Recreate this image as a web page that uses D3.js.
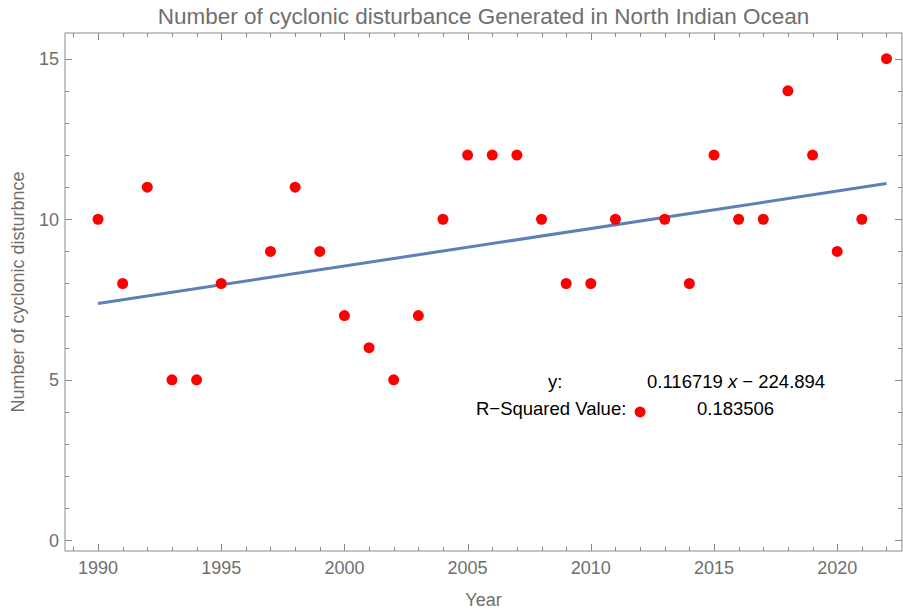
<!DOCTYPE html>
<html><head><meta charset="utf-8">
<script src="https://cdn.jsdelivr.net/npm/d3@7"></script>
<style>body{margin:0;background:#fff}svg{display:block;font-family:"Liberation Sans",Arial,sans-serif}</style>
</head><body><svg id="c" width="903" height="609"></svg>
<script>
const years = [1990,1991,1992,1993,1994,1995,1997,1998,1999,2000,2001,2002,2003,2004,2005,2006,2007,2008,2009,2010,2011,2012,2013,2014,2015,2016,2017,2018,2019,2020,2021,2022];
const counts = [10,8,11,5,5,8,9,11,9,7,6,5,7,10,12,12,12,10,8,8,10,4,10,8,12,10,10,14,12,9,10,15];
const fitSlope = 0.116719, fitIntercept = -224.894, rSquared = 0.183506;
const xTicks = [1990,1995,2000,2005,2010,2015,2020];
const yTicks = [0,5,10,15];

const svg = d3.select("#c");
const L=65, R=902, T=33, B=551;
const x = d3.scaleLinear().domain([1988.66,2022.63]).range([L,R]);
const y = d3.scaleLinear().domain([-0.33,15.8]).range([B,T]);
const grey="#6f6f6f", tickCol="#8a8a8a";

svg.append("rect").attr("x",L).attr("y",T).attr("width",R-L).attr("height",B-T)
  .attr("fill","none").attr("stroke",tickCol).attr("stroke-width",1);

const g = svg.append("g").attr("stroke",tickCol).attr("stroke-width",1);
d3.range(1989,2023).forEach(v=>{
  const len = v%5===0?7:4, px=Math.round(x(v))+0.5;
  g.append("line").attr("x1",px).attr("x2",px).attr("y1",B).attr("y2",B-len);
  g.append("line").attr("x1",px).attr("x2",px).attr("y1",T).attr("y2",T+len);
});
d3.range(0,16).forEach(v=>{
  const len = v%5===0?7:4, py=Math.round(y(v))+0.5;
  g.append("line").attr("x1",L).attr("x2",L+len).attr("y1",py).attr("y2",py);
  g.append("line").attr("x1",R).attr("x2",R-len).attr("y1",py).attr("y2",py);
});
svg.selectAll(".xl").data(xTicks).enter().append("text")
  .attr("x",d=>x(d)).attr("y",B+23).attr("text-anchor","middle")
  .attr("font-size",18).attr("fill",grey).text(d=>d);
svg.selectAll(".yl").data(yTicks).enter().append("text")
  .attr("x",L-6).attr("y",d=>y(d)+6.5).attr("text-anchor","end")
  .attr("font-size",18).attr("fill",grey).text(d=>d);

const fx=[years[0],years[years.length-1]];
svg.append("line").attr("x1",x(fx[0])).attr("y1",y(fitSlope*fx[0]+fitIntercept))
  .attr("x2",x(fx[1])).attr("y2",y(fitSlope*fx[1]+fitIntercept))
  .attr("stroke","#5e81b5").attr("stroke-width",3);

svg.selectAll(".pt").data(years).enter().append("circle")
  .attr("cx",d=>x(d)).attr("cy",(d,i)=>y(counts[i])).attr("r",5.5).attr("fill","#ff0000");

const ann = svg.append("g").attr("font-size",18.5).attr("fill","#000");
ann.append("text").attr("x",548).attr("y",388).text("y:");
const eq = ann.append("text").attr("x",647).attr("y",388);
eq.append("tspan").text(fitSlope.toFixed(6)+" ");
eq.append("tspan").attr("font-style","italic").text("x");
eq.append("tspan").text(" \u2212 "+(-fitIntercept).toFixed(3));
ann.append("text").attr("x",476).attr("y",415).text("R\u2212Squared Value:");
ann.append("text").attr("x",697).attr("y",415).text(rSquared.toFixed(6));

svg.append("text").attr("x",(L+R)/2).attr("y",24).attr("text-anchor","middle")
  .attr("font-size",22.5).attr("fill",grey).text("Number of cyclonic disturbance Generated in North Indian Ocean");
svg.append("text").attr("x",(L+R)/2).attr("y",606).attr("text-anchor","middle")
  .attr("font-size",18).attr("fill",grey).text("Year");
svg.append("text").attr("transform",`translate(24,${(T+B)/2}) rotate(-90)`).attr("text-anchor","middle")
  .attr("font-size",18).attr("fill",grey).text("Number of cyclonic disturbnce");
</script></body></html>
